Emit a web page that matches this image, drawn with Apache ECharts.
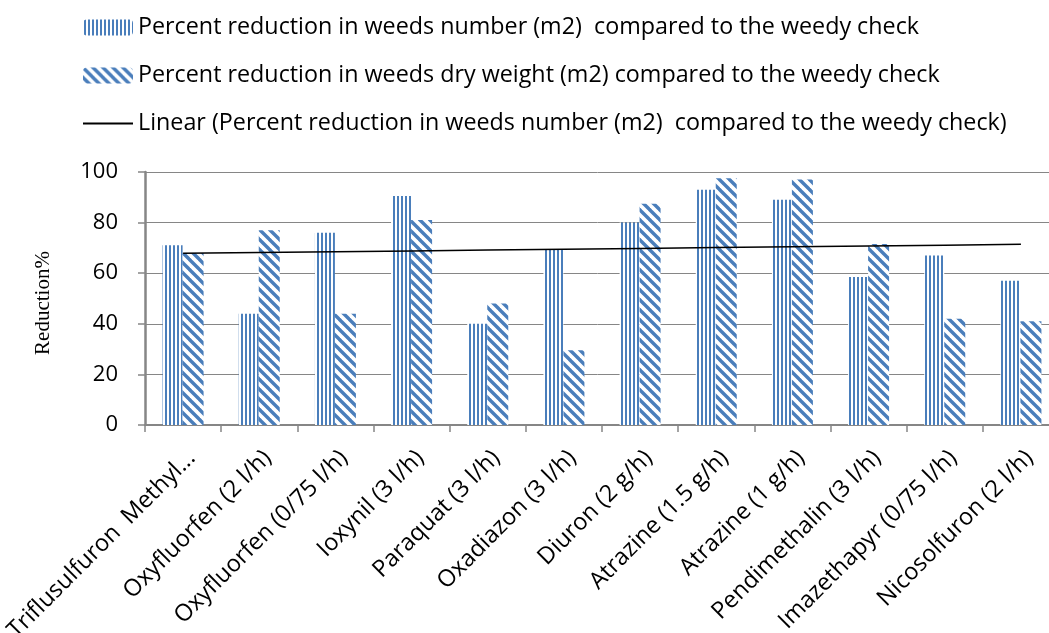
<!DOCTYPE html>
<html>
<head>
<meta charset="utf-8">
<script src="https://cdn.jsdelivr.net/npm/echarts@6/dist/echarts.min.js"></script>
<style>
html, body { margin: 0; padding: 0; background: #fff; }
#main { width: 1049px; height: 633px; }
</style>
</head>
<body>
<div id="main"></div>
<script>
// categories along the x axis (first label is cut short in the original)
var categories = [
    'Triflusulfuron  Methyl...', 'Oxyfluorfen (2 l/h)', 'Oxyfluorfen (0/75 l/h)', 'Ioxynil (3 l/h)',
    'Paraquat (3 l/h)', 'Oxadiazon (3 l/h)', 'Diuron (2 g/h)', 'Atrazine (1.5 g/h)',
    'Atrazine (1 g/h)', 'Pendimethalin (3 l/h)', 'Imazethapyr (0/75 l/h)', 'Nicosolfuron (2 l/h)'
];
// percent reduction in weeds number
var numberReduction = [71, 44, 76, 90.5, 40, 69.5, 80, 93, 89, 58.5, 67, 57];
// percent reduction in weeds dry weight
var weightReduction = [68, 77, 44, 81, 48, 29.5, 87.5, 97.5, 97, 71.5, 42, 41];
var yTicks = [0, 20, 40, 60, 80, 100];

var nameNumber = 'Percent reduction in weeds number (m2)  compared to the weedy check';
var nameWeight = 'Percent reduction in weeds dry weight (m2) compared to the weedy check';
var nameLinear = 'Linear (Percent reduction in weeds number (m2)  compared to the weedy check)';

var blue = '#4a7ebb';
var font = 'Open Sans';

// least squares trend of the weeds number series (like excel's linear trendline)
function linearTrend(vals) {
    var n = vals.length, sx = 0, sy = 0, sxy = 0, sxx = 0;
    for (var i = 0; i < n; i++) {
        var x = i + 1;
        sx += x; sy += vals[i]; sxy += x * vals[i]; sxx += x * x;
    }
    var b = (n * sxy - sx * sy) / (n * sxx - sx * sx);
    var a = (sy - b * sx) / n;
    var out = [];
    for (var j = 0; j < n; j++) out.push(+(a + b * (j + 1)).toFixed(3));
    return out;
}

// pattern fills
function vertStripes() {
    var c = document.createElement('canvas');
    c.width = 4; c.height = 4;
    var ctx = c.getContext('2d');
    ctx.fillStyle = '#ffffff';
    ctx.fillRect(0, 0, 4, 4);
    ctx.fillStyle = blue;
    ctx.fillRect(1, 0, 2, 4);
    return { image: c, repeat: 'repeat' };
}
function diagStripes() {
    var s = 10;
    var c = document.createElement('canvas');
    c.width = s; c.height = s;
    var ctx = c.getContext('2d');
    ctx.fillStyle = '#ffffff';
    ctx.fillRect(0, 0, s, s);
    ctx.strokeStyle = blue;
    ctx.lineWidth = 3.4;
    for (var k = -1; k <= 1; k++) {
        ctx.beginPath();
        ctx.moveTo(k * s - 1, -1);
        ctx.lineTo(k * s + s + 1, s + 1);
        ctx.stroke();
    }
    return { image: c, repeat: 'repeat' };
}

var chart = echarts.init(document.getElementById('main'));

var option = {
    backgroundColor: '#ffffff',
    animation: false,
    legend: {
        orient: 'vertical',
        left: 82,
        top: 16,
        padding: 0,
        itemWidth: 50,
        itemHeight: 16,
        itemGap: 25,
        itemTextGap: 6,
        textStyle: { fontFamily: font, fontSize: 23.3, color: '#000' },
        data: [
            { name: nameNumber },
            { name: nameWeight },
            {
                name: nameLinear,
                itemStyle: { color: 'rgba(0,0,0,0)', borderColor: 'rgba(0,0,0,0)', borderWidth: 0 }
            }
        ]
    },
    grid: {
        left: 145,
        top: 172,
        width: 914,
        bottom: 208,
        containLabel: false,
        outerBoundsMode: 'none'
    },
    graphic: [{
        type: 'text',
        x: 43,
        y: 303,
        rotation: Math.PI / 2,
        style: {
            text: 'Reduction%',
            font: 'normal 21px "Liberation Serif", serif',
            fill: '#000',
            align: 'center',
            verticalAlign: 'middle'
        }
    }],
    xAxis: {
        type: 'category',
        data: categories,
        axisLine: { lineStyle: { color: '#868686', width: 2 } },
        axisTick: { show: true, length: 7, lineStyle: { color: '#868686', width: 1.5 } },
        axisLabel: {
            interval: 0,
            rotate: 45,
            margin: 21,
            verticalAlign: 'top',
            fontFamily: font,
            fontSize: 23.5,
            color: '#000'
        }
    },
    yAxis: {
        type: 'value',
        min: yTicks[0],
        max: yTicks[yTicks.length - 1],
        interval: 20,
        axisLine: { show: true, lineStyle: { color: '#868686', width: 2.5 } },
        axisTick: { show: true, length: 7, lineStyle: { color: '#868686', width: 1.5 } },
        axisLabel: { margin: 27, fontFamily: font, fontSize: 22, color: '#000' },
        splitLine: { lineStyle: { color: '#868686', width: 1 } }
    },
    series: [
        {
            name: nameNumber,
            type: 'bar',
            data: numberReduction,
            barWidth: 20,
            barGap: '0%',
            itemStyle: { color: vertStripes() }
        },
        {
            name: nameWeight,
            type: 'bar',
            data: weightReduction,
            barWidth: 21,
            barGap: '0%',
            itemStyle: { color: diagStripes() }
        },
        {
            name: nameLinear,
            type: 'line',
            data: linearTrend(numberReduction),
            symbol: 'none',
            lineStyle: { color: '#000', width: 1.5 },
            itemStyle: { color: '#000' },
            z: 5
        }
    ]
};

chart.setOption(option);
</script>
</body>
</html>
